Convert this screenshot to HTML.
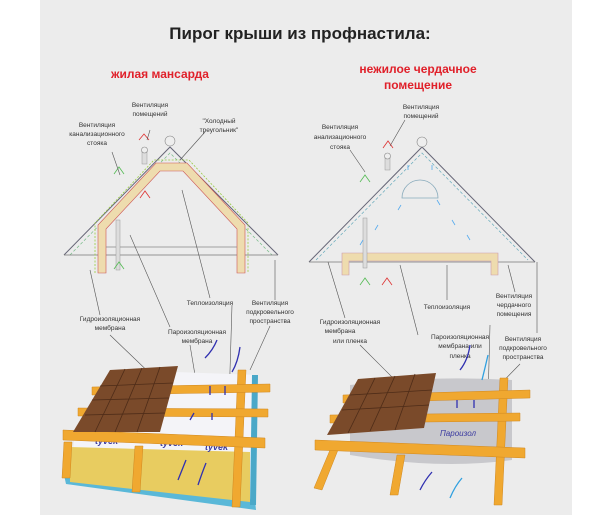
<!DOCTYPE html>
<html><head><meta charset="utf-8"><style>
html,body{margin:0;padding:0;background:#fff;}
svg{display:block}
text{font-family:"Liberation Sans",sans-serif;}
.l{font-size:6.5px;fill:#333;text-anchor:middle}
.ln{stroke:#555;stroke-width:0.6;fill:none}
</style></head><body>
<svg width="610" height="526" viewBox="0 0 610 526" xmlns="http://www.w3.org/2000/svg">
<rect x="0" y="0" width="610" height="526" fill="#fff"/>
<rect x="40" y="0" width="532" height="515" fill="#ececec"/>
<text x="300" y="39" font-size="17" font-weight="bold" text-anchor="middle" fill="#222">Пирог крыши из профнастила:</text>
<text x="160" y="78" font-size="12" font-weight="bold" text-anchor="middle" fill="#e0202a">жилая мансарда</text>
<text x="418" y="73" font-size="12" font-weight="bold" text-anchor="middle" fill="#e0202a">нежилое чердачное</text>
<text x="418" y="89" font-size="12" font-weight="bold" text-anchor="middle" fill="#e0202a">помещение</text>

<!-- LEFT ROOF -->
<g>
<polyline points="64,255 170,147 278,255" stroke="#667" stroke-width="1" fill="none"/>
<polyline points="70,255 170,153 272,255" stroke="#7b8" stroke-width="0.7" fill="none" stroke-dasharray="3,2"/>
<line x1="64" y1="255" x2="278" y2="255" stroke="#777" stroke-width="0.8"/>
<polygon points="98,273 98,225 156,163 187,163 245,225 245,273 237,273 237,229 183,171 160,171 106,229 106,273" fill="#eedcae" stroke="#c55" stroke-width="0.6"/>
<polyline points="95,273 95,223 154,160 189,160 248,223 248,273" fill="none" stroke="#9c4" stroke-width="0.8" stroke-dasharray="2,1.5"/>
<line x1="106" y1="247" x2="237" y2="247" stroke="#888" stroke-width="0.7"/>
<rect x="116" y="220" width="4" height="50" fill="#ddd" stroke="#999" stroke-width="0.5"/>
<rect x="142" y="150" width="5" height="14" fill="#ddd" stroke="#999" stroke-width="0.5"/>
<circle cx="144.5" cy="150" r="3" fill="#eee" stroke="#888" stroke-width="0.6"/>
<circle cx="170" cy="141" r="5" fill="#eee" stroke="#888" stroke-width="0.6"/>
<path d="M139,140 l5,-6 l5,6" stroke="#d33" fill="none" stroke-width="0.8"/>
<path d="M114,174 l5,-7 l5,7" stroke="#5b5" fill="none" stroke-width="0.8"/>
<path d="M140,198 l5,-7 l5,7" stroke="#d33" fill="none" stroke-width="0.8"/>
<path d="M114,269 l5,-7 l5,7" stroke="#5b5" fill="none" stroke-width="0.8"/>
</g>
<!-- RIGHT ROOF -->
<g>
<polyline points="309,262 422,147 535,262" stroke="#667" stroke-width="1" fill="none"/>
<polyline points="316,260 422,153 528,260" stroke="#6ab" stroke-width="0.7" fill="none" stroke-dasharray="3,2"/>
<line x1="309" y1="262" x2="535" y2="262" stroke="#777" stroke-width="0.8"/>
<path d="M342,275 L342,253 L498,253 L498,275 L491,275 L491,261 L349,261 L349,275 Z" fill="#eedcae" stroke="#c9a" stroke-width="0.6"/>
<path d="M402,198 A18,18 0 0 1 438,198 Z" fill="none" stroke="#8ab" stroke-width="0.8"/>
<rect x="363" y="218" width="4" height="50" fill="#ddd" stroke="#999" stroke-width="0.5"/>
<rect x="385" y="155" width="5" height="15" fill="#ddd" stroke="#999" stroke-width="0.5"/>
<circle cx="387.5" cy="156" r="3" fill="#eee" stroke="#888" stroke-width="0.6"/>
<circle cx="422" cy="142" r="5" fill="#eee" stroke="#888" stroke-width="0.6"/>
<path d="M383,148 l5,-7 l5,7" stroke="#d33" fill="none" stroke-width="0.8"/>
<path d="M360,182 l5,-7 l5,7" stroke="#5b5" fill="none" stroke-width="0.8"/>
<path d="M360,285 l5,-7 l5,7" stroke="#5b5" fill="none" stroke-width="0.8"/>
<path d="M382,285 l5,-7 l5,7" stroke="#d33" fill="none" stroke-width="0.8"/>
<g stroke="#5ae" stroke-width="0.8">
<line x1="360" y1="245" x2="363" y2="240"/><line x1="375" y1="230" x2="378" y2="225"/><line x1="398" y1="210" x2="401" y2="205"/>
<line x1="470" y1="240" x2="467" y2="235"/><line x1="455" y1="225" x2="452" y2="220"/><line x1="440" y1="205" x2="437" y2="200"/>
<line x1="408" y1="170" x2="408" y2="165"/><line x1="432" y1="170" x2="432" y2="165"/>
</g>
</g>

<!-- leader lines -->
<g class="ln">
<line x1="120" y1="175" x2="112" y2="152"/>
<line x1="150" y1="130" x2="147" y2="140"/>
<line x1="205" y1="132" x2="180" y2="160"/>
<line x1="90" y1="270" x2="100" y2="315"/>
<line x1="130" y1="235" x2="170" y2="327"/>
<line x1="182" y1="190" x2="210" y2="298"/>
<line x1="275" y1="260" x2="275" y2="300"/>
<line x1="110" y1="335" x2="160" y2="383"/>
<line x1="190" y1="345" x2="215" y2="495"/>
<line x1="232" y1="305" x2="227" y2="470"/>
<line x1="270" y1="326" x2="250" y2="370"/>
<line x1="365" y1="172" x2="350" y2="150"/>
<line x1="390" y1="146" x2="405" y2="120"/>
<line x1="328" y1="262" x2="345" y2="318"/>
<line x1="400" y1="265" x2="418" y2="335"/>
<line x1="447" y1="265" x2="447" y2="300"/>
<line x1="508" y1="265" x2="515" y2="292"/>
<line x1="537" y1="262" x2="537" y2="333"/>
<line x1="360" y1="345" x2="400" y2="385"/>
<line x1="490" y1="325" x2="488" y2="400"/>
<line x1="520" y1="364" x2="480" y2="405"/>
</g>

<!-- labels -->
<g class="l">
<text x="150" y="107">Вентиляция</text><text x="150" y="116">помещений</text>
<text x="97" y="127">Вентиляция</text><text x="97" y="136">канализационного</text><text x="97" y="145">стояка</text>
<text x="219" y="123">"Холодный</text><text x="219" y="132">треугольник"</text>
<text x="210" y="305">Теплоизоляция</text>
<text x="270" y="305">Вентиляция</text><text x="270" y="314">подкровельного</text><text x="270" y="323">пространства</text>
<text x="110" y="321">Гидроизоляционная</text><text x="110" y="330">мембрана</text>
<text x="197" y="334">Пароизоляционная</text><text x="197" y="343">мембрана</text>
<text x="421" y="109">Вентиляция</text><text x="421" y="118">помещений</text>
<text x="340" y="129">Вентиляция</text><text x="340" y="139">анализационного</text><text x="340" y="149">стояка</text>
<text x="447" y="309">Теплоизоляция</text>
<text x="514" y="298">Вентиляция</text><text x="514" y="307">чердачного</text><text x="514" y="316">помещения</text>
<text x="350" y="324">Гидроизоляционная</text><text x="340" y="333">мембрана</text><text x="350" y="343">или пленка</text>
<text x="460" y="339">Пароизоляционная</text><text x="460" y="348">мембрана или</text><text x="460" y="358">пленка</text>
<text x="523" y="341">Вентиляция</text><text x="523" y="350">подкровельного</text><text x="523" y="359">пространства</text>
</g>

<!-- LEFT ROOF PIE -->
<g>
<polygon points="175,372 258,375 255,500 70,485 75,430" fill="#f4f4f8"/>
<polygon points="64,475 255,500 256,510 66,484" fill="#5ab8d8"/>
<polygon points="70,447 250,452 250,502 70,482" fill="#e8cc60"/>
<polygon points="252,375 258,375 256,505 250,505" fill="#4aa8c8"/>
<text x="95" y="444" font-size="9" font-weight="bold" fill="#3a3aa0" font-style="italic">tyvek</text>
<text x="160" y="446" font-size="9" font-weight="bold" fill="#3a3aa0" font-style="italic">tyvek</text>
<text x="205" y="450" font-size="9" font-weight="bold" fill="#3a3aa0" font-style="italic">tyvek</text>
<g fill="#f0a830" stroke="#d08820" stroke-width="0.5">
<polygon points="64,442 72,442 70,478 62,478"/>
<polygon points="135,446 143,446 140,492 132,492"/>
<polygon points="238,370 246,370 240,507 232,507"/>
<polygon points="92,387 270,384 270,392 92,395"/>
<polygon points="78,408 268,409 268,417 78,416"/>
<polygon points="63,430 265,438 265,448 63,440"/>
</g>
<polygon points="110,370 178,366 160,432 73,432" fill="#7a4a2a"/>
<g stroke="#4e2c18" stroke-width="0.8">
<line x1="100" y1="386" x2="173" y2="383"/><line x1="92" y1="400" x2="169" y2="398"/><line x1="85" y1="415" x2="165" y2="413"/>
<line x1="125" y1="369" x2="95" y2="432"/><line x1="142" y1="368" x2="115" y2="432"/><line x1="160" y1="367" x2="137" y2="432"/>
</g>
<g stroke="#3030b0" stroke-width="1.3" fill="none">
<path d="M210,395 l0,-9"/><path d="M225,395 l0,-9"/><path d="M190,420 l4,-7"/><path d="M212,420 l0,-7"/>
<path d="M205,358 q8,-8 12,-18"/><path d="M232,372 q6,-10 8,-25"/>
<path d="M178,480 q4,-10 8,-20"/><path d="M198,485 q4,-12 8,-22"/>
</g>
</g>

<!-- RIGHT ROOF PIE -->
<g>
<path d="M350,385 Q430,375 512,380 L512,460 Q440,470 350,455 Z" fill="#c8c8cc"/>
<text x="440" y="436" font-size="8" fill="#3a3aa0" font-style="italic">Пароизол</text>
<g fill="#f0a830" stroke="#d08820" stroke-width="0.5">
<polygon points="330,450 338,450 322,490 314,488"/>
<polygon points="397,455 405,455 398,495 390,495"/>
<polygon points="500,378 508,378 502,505 494,505"/>
<polygon points="343,395 530,390 530,398 343,403"/>
<polygon points="330,415 520,413 520,421 330,423"/>
<polygon points="315,440 525,448 525,458 315,450"/>
</g>
<polygon points="358,379 436,373 424,428 327,435" fill="#7a4a2a"/>
<g stroke="#4e2c18" stroke-width="0.8">
<line x1="350" y1="395" x2="432" y2="390"/><line x1="342" y1="410" x2="429" y2="405"/>
<line x1="375" y1="378" x2="348" y2="433"/><line x1="395" y1="376" x2="370" y2="431"/><line x1="415" y1="374" x2="395" y2="430"/>
</g>
<g fill="none" stroke-width="1.3">
<path d="M460,370 q8,-10 10,-25" stroke="#3030b0"/><path d="M482,380 q3,-12 6,-25" stroke="#30a0e0"/>
<path d="M457,408 l0,-8" stroke="#3030b0"/><path d="M474,408 l0,-8" stroke="#3030b0"/>
<path d="M420,490 q5,-10 12,-18" stroke="#3030b0"/><path d="M450,498 q5,-12 12,-20" stroke="#30a0e0"/>
</g>
</g>
</svg>
</body></html>
